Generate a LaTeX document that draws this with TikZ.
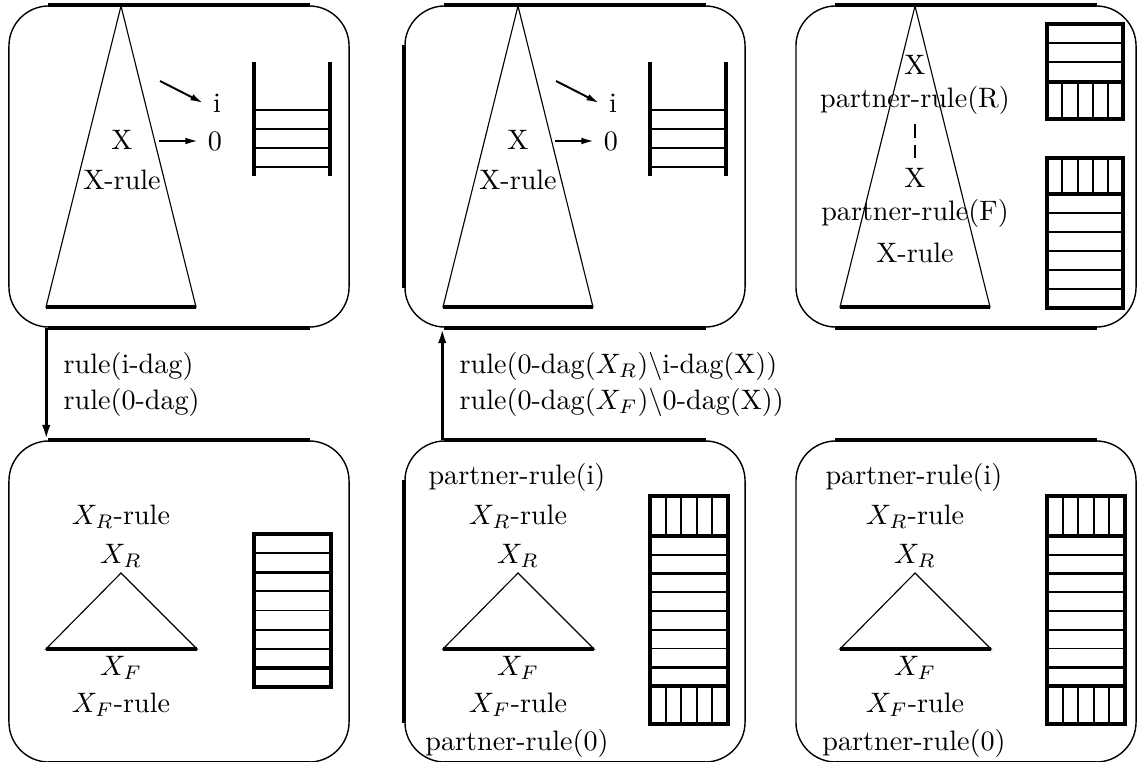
\documentclass[tikz,border=0pt]{standalone}
\usetikzlibrary{arrows.meta}
\begin{document}
\begin{tikzpicture}[x=0.0125cm,y=-0.0125cm,
    panel/.style={draw,line width=0.5pt,rounded corners=0.5cm,minimum width=4.25cm,minimum height=4.0125cm,inner sep=0pt},
    rim/.style={line width=1.3pt},
    flow/.style={line width=1.1pt,-{Latex[length=5.5pt,width=3pt]}},
    ptr/.style={line width=0.7pt,-{Latex[length=4.5pt,width=2.4pt]}},
    rail/.style={line width=1.2pt},
    rung/.style={line width=0.7pt},
    link/.style={line width=0.7pt,dash pattern=on 5pt off 2.5pt}]
		\useasboundingbox (0,0) rectangle (1137,761);
		\clip (0,0) rectangle (1137,761);
		%panels
		\node[panel] (b1) at (179,166.5) {};
		\node[panel] (b2) at (575,166.5) {};
		\node[panel] (b3) at (966,166.5) {};
		\node[panel] (b4) at (179,601.5) {};
		\node[panel] (b5) at (575,601.5) {};
		\node[panel] (b6) at (966,601.5) {};
		\foreach \b in {b1,b2,b3,b4,b5,b6} {
			\draw[rim] ([xshift=0.5cm]\b.north west) -- ([xshift=-0.5cm]\b.north east);
			\draw[rim] ([xshift=0.5cm]\b.south west) -- ([xshift=-0.5cm]\b.south east);
		}
		\draw[rim] ([yshift=-0.5cm]b2.north west) -- ([yshift=0.5cm]b2.south west);
		\draw[rim] ([yshift=-0.5cm]b5.north west) -- ([yshift=0.5cm]b5.south west);
		%tall trees
		\foreach \dx in {0,397,794} {
			\draw[thin] (121+\dx,6) -- (46+\dx,307) -- (196+\dx,307) -- cycle;
			\draw[rim] (46+\dx,307) -- (196+\dx,307);
		}
		%first and second
		\foreach \dx in {0,396} {
			\node at (122+\dx,140) {X};
			\node at (122+\dx,180) {X-rule};
			\node (i\dx) at (217+\dx,103) {i};
			\node (o\dx) at (215+\dx,141) {0};
			\coordinate (ti\dx) at (160+\dx,81);
			\coordinate (to\dx) at (159+\dx,141);
			\draw[ptr] (ti\dx) -- (i\dx.west);
			\draw[ptr] (to\dx) -- (o\dx.west);
			\draw[rail] (254+\dx,62) -- (254+\dx,176);
			\draw[rail] (330+\dx,62) -- (330+\dx,176);
			\foreach \y in {110,129,148,167}
				\draw[rung] (254+\dx,\y) -- (330+\dx,\y);
		}
		%third
		\node (x3a) at (915,65) {X};
		\node (pr3) at (915,100) {partner-rule(R)};
		\node (x3b) at (915,178) {X};
		\node (pf3) at (915,213) {partner-rule(F)};
		\node (xr3) at (915,253) {X-rule};
		\draw[link] (pr3) -- (x3b);
		\foreach \y in {43,62}
			\draw[rung] (1047,\y) -- (1123,\y);
		\draw[rail] (1047,82) -- (1123,82);
		\foreach \x in {1062,1078,1093,1108}
			\draw[rung] (\x,82) -- (\x,119);
		\draw[rail] (1047,24) rectangle (1123,119);
		\draw[rail] (1047,194) -- (1123,194);
		\foreach \x in {1062,1078,1093,1108}
			\draw[rung] (\x,158) -- (\x,194);
		\foreach \y in {213,232,251,270,289}
			\draw[rung] (1047,\y) -- (1123,\y);
		\draw[rail] (1047,158) rectangle (1123,308);
		%flat trees
		\foreach \dx in {0,397,794} {
			\draw[thin] (121+\dx,573) -- (46+\dx,649) -- (197+\dx,649) -- cycle;
			\draw[rim] (46+\dx,649) -- (197+\dx,649);
			\node at (121+\dx,517) {$X_R$-rule};
			\node at (121+\dx,556) {$X_R$};
			\node at (121+\dx,668) {$X_F$};
			\node at (121+\dx,705) {$X_F$-rule};
		}
		%fourth
		\foreach \y in {553.1,591.4,610.5,629.6,648.75}
			\draw[rung] (254,\y) -- (331,\y);
		\draw[rail] (254,572.25) -- (331,572.25);
		\draw[rail] (254,667.9) -- (331,667.9);
		\draw[rail] (254,534) rectangle (331,687);
		%fifth and sixth
		\foreach \dx in {0,397} {
			\node at (517+\dx,477) {partner-rule(i)};
			\node at (517+\dx,743) {partner-rule(0)};
			\foreach \y in {554.75,592.25,611,629.75,648.5}
				\draw[rung] (650+\dx,\y) -- (728+\dx,\y);
			\draw[rail] (650+\dx,573.5) -- (728+\dx,573.5);
			\draw[rail] (650+\dx,667.25) -- (728+\dx,667.25);
			\draw[rail] (650+\dx,536) -- (728+\dx,536);
			\draw[rail] (650+\dx,686) -- (728+\dx,686);
			\foreach \x in {665.6,681.2,696.8,712.4} {
				\draw[rung] (\x+\dx,496) -- (\x+\dx,536);
				\draw[rung] (\x+\dx,686) -- (\x+\dx,724);
			}
			\draw[rail] (650+\dx,496) rectangle (728+\dx,724);
		}
		%connectors
		\draw[flow] ([xshift=0.475cm]b1.south west) -- ([xshift=0.475cm]b4.north west)
			node[midway,right,align=left,xshift=2.3pt] {rule(i-dag)\\[0.8pt]rule(0-dag)};
		\draw[flow] ([xshift=0.475cm]b5.north west) -- ([xshift=0.475cm]b2.south west)
			node[midway,right,align=left,xshift=2.3pt] {rule(0-dag($X_R$)$\backslash$i-dag(X))\\[0.8pt]rule(0-dag($X_F$)$\backslash$0-dag(X))};
	\end{tikzpicture}
\end{document}
